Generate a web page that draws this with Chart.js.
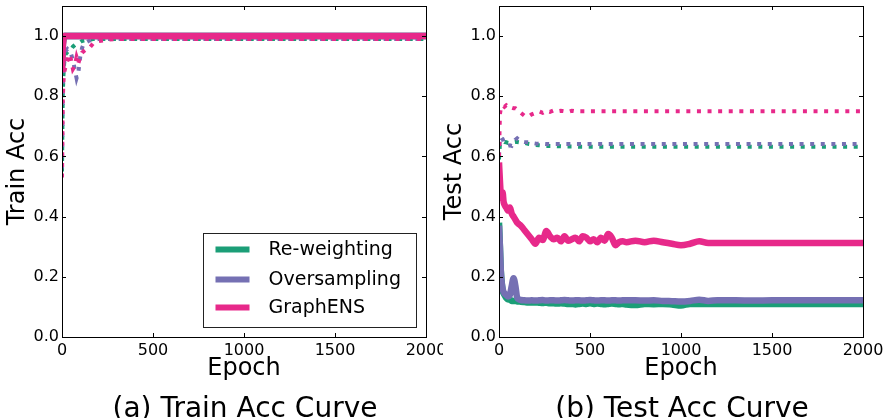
<!DOCTYPE html>
<html>
<head>
<meta charset="utf-8">
<script src="https://cdn.jsdelivr.net/npm/chart.js@4.4.1/dist/chart.umd.min.js"></script>
<style>
  html, body { margin: 0; padding: 0; background: #fff; }
  body { width: 886px; height: 418px; position: relative; overflow: hidden; font-family: 'DejaVu Sans', sans-serif; }
  .panel { position: absolute; top: 0; }
  .caption { position: absolute; top: 394px; font-size: 28px; line-height: 28px; color: #000; white-space: nowrap; transform: translateX(-50%); }
</style>
</head>
<body>
<div class="panel" style="left:0px"><canvas id="trainChart" width="443" height="392"></canvas></div>
<div class="panel" style="left:437px"><canvas id="testChart" width="449" height="392"></canvas></div>
<div class="caption" style="left:245px">(a) Train Acc Curve</div>
<div class="caption" style="left:682px">(b) Test Acc Curve</div>
<script>
const methods = ['Re-weighting', 'Oversampling', 'GraphENS']
const colors = ['#1b9e77', '#7570b3', '#e7298a']

const xTicks = [0, 500, 1000, 1500, 2000]
const yTicks = [0, 0.2, 0.4, 0.6, 0.8, 1.0]

// train acc curve
const trainEpochs = [0, 4, 8, 12, 16, 20, 30, 40, 50, 60, 70, 80, 90, 100, 110, 120, 135, 150, 170, 200, 250, 300, 400, 500, 600, 800, 1000, 1200, 1400, 1600, 1800, 2000]
const trainSolidReweight = [0.90, 0.97, 0.995, 1.0, 1.0, 1.0, 1.0, 1.0, 1.0, 1.0, 1.0, 1.0, 1.0, 1.0, 1.0, 1.0, 1.0, 1.0, 1.0, 1.0, 1.0, 1.0, 1.0, 1.0, 1.0, 1.0, 1.0, 1.0, 1.0, 1.0, 1.0, 1.0]
const trainSolidOversample = [0.89, 0.96, 0.99, 1.0, 1.0, 1.0, 1.0, 1.0, 1.0, 1.0, 1.0, 1.0, 1.0, 1.0, 1.0, 1.0, 1.0, 1.0, 1.0, 1.0, 1.0, 1.0, 1.0, 1.0, 1.0, 1.0, 1.0, 1.0, 1.0, 1.0, 1.0, 1.0]
const trainSolidGraphens = [0.88, 0.96, 0.99, 1.0, 1.0, 1.0, 1.0, 1.0, 1.0, 1.0, 1.0, 1.0, 1.0, 1.0, 1.0, 1.0, 1.0, 1.0, 1.0, 1.0, 1.0, 1.0, 1.0, 1.0, 1.0, 1.0, 1.0, 1.0, 1.0, 1.0, 1.0, 1.0]
const trainDotReweight = [0.55, 0.80, 0.87, 0.91, 0.93, 0.94, 0.947, 0.955, 0.955, 0.965, 0.97, 0.975, 0.978, 0.98, 0.984, 0.985, 0.987, 0.988, 0.99, 0.99, 0.99, 0.99, 0.99, 0.99, 0.99, 0.99, 0.99, 0.99, 0.99, 0.99, 0.99, 0.99]
const trainDotOversample = [0.56, 0.82, 0.90, 0.93, 0.94, 0.95, 0.957, 0.95, 0.94, 0.92, 0.89, 0.86, 0.88, 0.93, 0.96, 0.975, 0.98, 0.985, 0.988, 0.99, 0.99, 0.99, 0.99, 0.99, 0.99, 0.99, 0.99, 0.99, 0.99, 0.99, 0.99, 0.99]
const trainDotGraphens = [0.53, 0.78, 0.85, 0.88, 0.89, 0.90, 0.92, 0.94, 0.92, 0.89, 0.90, 0.93, 0.91, 0.93, 0.945, 0.95, 0.957, 0.96, 0.975, 0.983, 0.988, 0.99, 0.99, 0.99, 0.99, 0.99, 0.99, 0.99, 0.99, 0.99, 0.99, 0.99]

// test acc curve
const testEpochs = [0, 5, 10, 15, 20, 25, 30, 40, 50, 60, 70, 80, 90, 100, 110, 120, 140, 160, 180, 200, 220, 240, 260, 280, 300, 320, 340, 360, 380, 400, 420, 440, 460, 480, 500, 520, 540, 560, 580, 600, 620, 640, 660, 680, 700, 750, 800, 850, 900, 950, 1000, 1050, 1100, 1150, 1200, 1300, 1400, 1500, 1600, 1700, 1800, 1900, 2000]
const testSolidReweight = [0.38, 0.30, 0.22, 0.18, 0.155, 0.145, 0.14, 0.13, 0.125, 0.125, 0.12, 0.12, 0.12, 0.118, 0.118, 0.117, 0.116, 0.115, 0.115, 0.115, 0.114, 0.113, 0.114, 0.112, 0.112, 0.111, 0.112, 0.111, 0.11, 0.11, 0.108, 0.11, 0.111, 0.11, 0.112, 0.11, 0.111, 0.11, 0.109, 0.11, 0.111, 0.11, 0.109, 0.11, 0.108, 0.106, 0.11, 0.109, 0.11, 0.108, 0.105, 0.11, 0.11, 0.11, 0.11, 0.11, 0.11, 0.11, 0.11, 0.11, 0.11, 0.11, 0.11]
const testSolidOversample = [0.37, 0.30, 0.22, 0.18, 0.16, 0.15, 0.145, 0.14, 0.135, 0.14, 0.17, 0.195, 0.17, 0.13, 0.125, 0.123, 0.122, 0.121, 0.122, 0.121, 0.122, 0.123, 0.121, 0.122, 0.122, 0.121, 0.122, 0.123, 0.122, 0.121, 0.122, 0.122, 0.121, 0.122, 0.123, 0.122, 0.121, 0.122, 0.122, 0.121, 0.122, 0.122, 0.121, 0.122, 0.122, 0.122, 0.121, 0.122, 0.12, 0.119, 0.118, 0.12, 0.124, 0.12, 0.122, 0.122, 0.121, 0.122, 0.122, 0.122, 0.122, 0.122, 0.122]
const testSolidGraphens = [0.58, 0.52, 0.47, 0.46, 0.48, 0.45, 0.44, 0.43, 0.42, 0.43, 0.41, 0.40, 0.39, 0.38, 0.375, 0.37, 0.355, 0.34, 0.325, 0.31, 0.33, 0.322, 0.352, 0.335, 0.325, 0.33, 0.318, 0.335, 0.32, 0.325, 0.33, 0.318, 0.335, 0.33, 0.318, 0.325, 0.315, 0.33, 0.32, 0.342, 0.33, 0.305, 0.315, 0.318, 0.315, 0.32, 0.315, 0.32, 0.315, 0.31, 0.305, 0.31, 0.318, 0.312, 0.312, 0.312, 0.312, 0.312, 0.312, 0.312, 0.312, 0.312, 0.312]
const testDotReweight = [0.59, 0.64, 0.645, 0.648, 0.65, 0.65, 0.648, 0.647, 0.645, 0.645, 0.646, 0.647, 0.648, 0.648, 0.647, 0.646, 0.645, 0.642, 0.64, 0.638, 0.637, 0.636, 0.635, 0.635, 0.635, 0.634, 0.634, 0.633, 0.633, 0.633, 0.633, 0.632, 0.632, 0.632, 0.632, 0.632, 0.632, 0.632, 0.632, 0.632, 0.632, 0.632, 0.632, 0.632, 0.632, 0.632, 0.632, 0.632, 0.632, 0.632, 0.632, 0.632, 0.632, 0.632, 0.632, 0.632, 0.632, 0.632, 0.632, 0.632, 0.632, 0.632, 0.632]
const testDotOversample = [0.60, 0.66, 0.665, 0.66, 0.658, 0.65, 0.645, 0.64, 0.635, 0.637, 0.635, 0.645, 0.655, 0.66, 0.655, 0.65, 0.648, 0.647, 0.645, 0.643, 0.642, 0.642, 0.641, 0.641, 0.641, 0.641, 0.641, 0.641, 0.641, 0.641, 0.641, 0.641, 0.641, 0.641, 0.641, 0.641, 0.641, 0.641, 0.641, 0.641, 0.641, 0.641, 0.641, 0.641, 0.641, 0.641, 0.641, 0.641, 0.641, 0.641, 0.641, 0.641, 0.641, 0.641, 0.641, 0.641, 0.641, 0.641, 0.641, 0.641, 0.641, 0.641, 0.641]
const testDotGraphens = [0.60, 0.74, 0.76, 0.765, 0.77, 0.768, 0.765, 0.77, 0.765, 0.76, 0.762, 0.76, 0.76, 0.755, 0.75, 0.745, 0.735, 0.732, 0.74, 0.745, 0.75, 0.745, 0.752, 0.748, 0.753, 0.75, 0.752, 0.75, 0.748, 0.752, 0.75, 0.75, 0.75, 0.75, 0.75, 0.75, 0.75, 0.75, 0.75, 0.75, 0.75, 0.75, 0.75, 0.75, 0.75, 0.75, 0.75, 0.75, 0.75, 0.75, 0.75, 0.75, 0.75, 0.75, 0.75, 0.75, 0.75, 0.75, 0.75, 0.75, 0.75, 0.75, 0.75]

const font = "'DejaVu Sans', sans-serif"

const toPoints = (epochs, values) => epochs.map((e, i) => ({ x: e, y: values[i] }))

// chart.js paints dataset 0 last, so GraphENS goes first to end up on top
function makeDatasets(epochs, solid, dotted) {
  const sets = []
  for (let i = methods.length - 1; i >= 0; i--) {
    sets.push({
      label: methods[i] + ' (dotted)',
      data: toPoints(epochs, dotted[i]),
      borderColor: colors[i],
      borderWidth: 4,
      borderDash: [4, 6.6],
      borderCapStyle: 'butt',
      pointRadius: 0,
      tension: 0
    })
    sets.push({
      label: methods[i],
      data: toPoints(epochs, solid[i]),
      borderColor: colors[i],
      borderWidth: 6.5,
      borderCapStyle: 'butt',
      borderJoinStyle: 'round',
      cubicInterpolationMode: 'monotone',
      pointRadius: 0
    })
  }
  return sets
}

// frame box with inward ticks on all four sides, like the original plot
const framePlugin = {
  id: 'frame',
  afterDatasetsDraw(chart) {
    const { ctx, chartArea: a, scales } = chart
    ctx.save()
    ctx.strokeStyle = '#000'
    ctx.lineWidth = 1
    ctx.strokeRect(Math.round(a.left) + 0.5, Math.round(a.top) + 0.5, Math.round(a.right - a.left), Math.round(a.bottom - a.top))
    ctx.beginPath()
    xTicks.forEach((v) => {
      const px = Math.round(scales.x.getPixelForValue(v)) + 0.5
      ctx.moveTo(px, a.bottom); ctx.lineTo(px, a.bottom - 4)
      ctx.moveTo(px, a.top); ctx.lineTo(px, a.top + 4)
    })
    yTicks.forEach((v) => {
      const py = Math.round(scales.y.getPixelForValue(v)) + 0.5
      ctx.moveTo(a.left, py); ctx.lineTo(a.left + 4, py)
      ctx.moveTo(a.right, py); ctx.lineTo(a.right - 4, py)
    })
    ctx.stroke()
    ctx.restore()
  }
}

const legendPlugin = {
  id: 'boxLegend',
  afterDatasetsDraw(chart, args, opts) {
    if (!opts.show) return
    const { ctx, chartArea: a } = chart
    const w = 213, h = 94
    const left = Math.round(a.right - 10 - w) + 0.5
    const top = Math.round(a.bottom - 10 - h) + 0.5
    ctx.save()
    ctx.fillStyle = '#fff'
    ctx.fillRect(left, top, w, h)
    ctx.strokeStyle = '#222'
    ctx.lineWidth = 1
    ctx.strokeRect(left, top, w, h)
    const rows = [16, 46, 74]
    ctx.font = '19px ' + font
    ctx.textBaseline = 'middle'
    methods.forEach((m, i) => {
      const y = top + rows[i]
      ctx.strokeStyle = colors[i]
      ctx.lineWidth = 6
      ctx.beginPath()
      ctx.moveTo(left + 12, y)
      ctx.lineTo(left + 46, y)
      ctx.stroke()
      ctx.fillStyle = '#000'
      ctx.fillText(m, left + 65, y + 1)
    })
    ctx.restore()
  }
}

function buildChart(id, yTitle, datasets, padRight, showLegend) {
  return new Chart(document.getElementById(id), {
    type: 'line',
    data: { datasets },
    plugins: [framePlugin, legendPlugin],
    options: {
      responsive: false,
      animation: false,
      devicePixelRatio: 1,
      layout: { padding: { left: 0, top: 6, right: padRight, bottom: 0 } },
      plugins: {
        legend: { display: false },
        tooltip: { enabled: false },
        boxLegend: { show: showLegend }
      },
      scales: {
        x: {
          type: 'linear',
          min: 0,
          max: 2000,
          grid: { display: false, drawTicks: false },
          border: { display: false },
          afterBuildTicks: (s) => { s.ticks = xTicks.map((v) => ({ value: v })) },
          afterFit: (s) => { s.height = 55; s.paddingLeft = 0; s.paddingRight = 0 },
          ticks: {
            color: '#000',
            padding: 4,
            maxRotation: 0,
            font: { family: font, size: 16 },
            callback: (v) => String(v)
          },
          title: {
            display: true,
            text: 'Epoch',
            color: '#000',
            font: { family: font, size: 24 },
            padding: { top: 0, bottom: 9 }
          }
        },
        y: {
          min: 0,
          max: 1.1,
          grid: { display: false, drawTicks: false },
          border: { display: false },
          afterBuildTicks: (s) => { s.ticks = yTicks.map((v) => ({ value: v })) },
          afterFit: (s) => { s.width = 62; s.paddingTop = 0; s.paddingBottom = 0 },
          ticks: {
            color: '#000',
            padding: 3,
            font: { family: font, size: 16 },
            callback: (v) => Number(v).toFixed(1)
          },
          title: {
            display: true,
            text: yTitle,
            color: '#000',
            font: { family: font, size: 24 },
            padding: { top: 3, bottom: 0 }
          }
        }
      }
    }
  })
}

buildChart('trainChart', 'Train Acc',
  makeDatasets(trainEpochs,
    [trainSolidReweight, trainSolidOversample, trainSolidGraphens],
    [trainDotReweight, trainDotOversample, trainDotGraphens]),
  17, true)

buildChart('testChart', 'Test Acc',
  makeDatasets(testEpochs,
    [testSolidReweight, testSolidOversample, testSolidGraphens],
    [testDotReweight, testDotOversample, testDotGraphens]),
  23, false)
</script>
</body>
</html>
